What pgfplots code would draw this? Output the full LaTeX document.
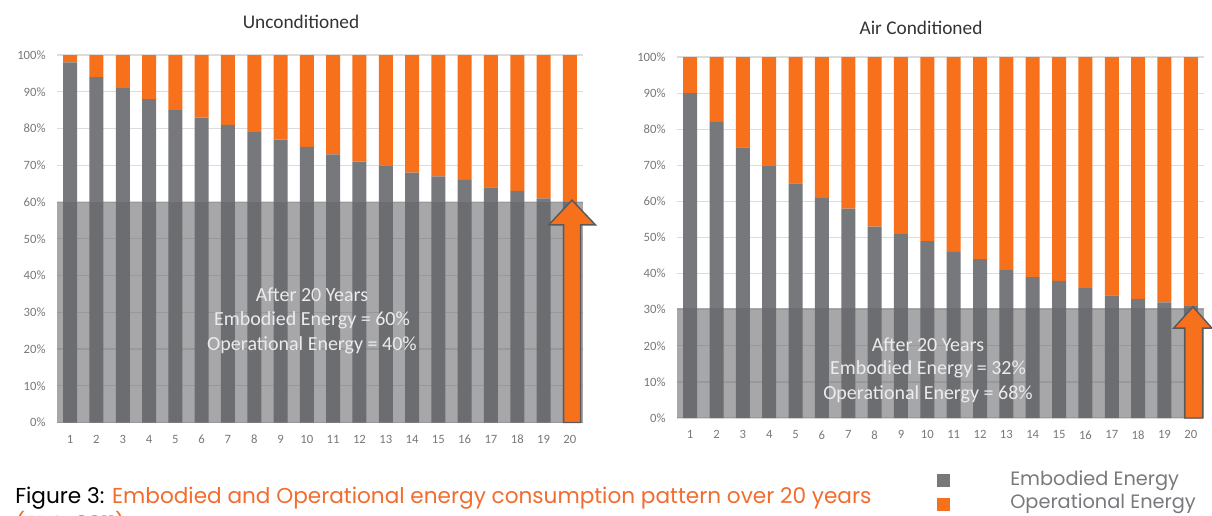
\documentclass[border=0pt]{standalone}
\usepackage{pgfplots}
\pgfplotsset{compat=1.18}
\usepackage{fontspec}
\setmainfont{Carlito}
\newfontfamily\capfont{Poppins}
\definecolor{barorange}{RGB}{247,113,29}
\definecolor{capor}{RGB}{242,108,45}
\definecolor{bargrey}{RGB}{119,120,124}
\definecolor{bandgrey}{RGB}{100,101,105}
\definecolor{gridgrey}{RGB}{220,220,220}
\definecolor{ticktext}{RGB}{120,120,120}
\definecolor{legtext}{RGB}{120,121,125}
\definecolor{arrowline}{RGB}{90,90,92}
\pgfplotsset{
  mystyle/.style={
    scale only axis,
    ybar stacked,
    bar width=10.5pt,
    ymin=0, ymax=100,
    xmin=0.5, xmax=20.5,
    ytick={0,10,...,100},
    xtick={1,...,20},
    /pgf/number format/assume math mode=true,
    yticklabel={\pgfmathprintnumber{\tick}\%},
    ymajorgrids,
    grid style={gridgrey, line width=0.9pt},
    axis line style={draw=none},
    tick style={draw=none},
    tick label style={font=\fontsize{9.5}{11}\selectfont, text=ticktext},
    yticklabel style={xshift=-5pt},
    xticklabel style={yshift=-6pt},
    clip=false,
  }
}
\newcommand{\PX}[2]{({#1*0.75pt},{#2*0.75pt})}
\begin{document}
\begin{tikzpicture}
\path[use as bounding box] \PX{0}{0} rectangle \PX{1212}{515};
\clip \PX{0}{0} rectangle \PX{1212}{515};
% Left chart
\begin{axis}[mystyle, at={(42.75pt,69.375pt)}, anchor=south west, width=394.5pt, height=275.6pt]
\addplot[fill=bargrey, draw=none] coordinates {
(1,98) (2,94) (3,91) (4,88) (5,85) (6,83) (7,81) (8,79) (9,77) (10,75)
(11,73) (12,71) (13,70) (14,68) (15,67) (16,66) (17,64) (18,63) (19,61) (20,60)};
\addplot[fill=barorange, draw=none] coordinates {
(1,2) (2,6) (3,9) (4,12) (5,15) (6,17) (7,19) (8,21) (9,23) (10,25)
(11,27) (12,29) (13,30) (14,32) (15,33) (16,34) (17,36) (18,37) (19,39) (20,40)};
\coordinate (LB1) at (axis cs:0.5,0);
\coordinate (LB2) at (axis cs:20.5,60);
\coordinate (La1) at (axis cs:19.76,0);
\coordinate (La2) at (axis cs:19.76,53.8);
\coordinate (La3) at (axis cs:19.2,53.8);
\coordinate (La4) at (axis cs:20.08,60.5);
\coordinate (La5) at (axis cs:20.97,53.8);
\coordinate (La6) at (axis cs:20.41,53.8);
\coordinate (La7) at (axis cs:20.41,0);
\end{axis}
\fill[bandgrey, fill opacity=0.57] (LB1) rectangle (LB2);
\filldraw[fill=barorange, draw=arrowline, line width=1.1pt]
  (La1) -- (La2) -- (La3) -- (La4) -- (La5) -- (La6) -- (La7) -- cycle;
% Right chart
\begin{axis}[mystyle, at={(507.75pt,72.75pt)}, anchor=south west, width=395.25pt, height=270.75pt]
\addplot[fill=bargrey, draw=none] coordinates {
(1,90) (2,82) (3,75) (4,70) (5,65) (6,61) (7,58) (8,53) (9,51) (10,49)
(11,46) (12,44) (13,41) (14,39) (15,38) (16,36) (17,34) (18,33) (19,32) (20,31)};
\addplot[fill=barorange, draw=none] coordinates {
(1,10) (2,18) (3,25) (4,30) (5,35) (6,39) (7,42) (8,47) (9,49) (10,51)
(11,54) (12,56) (13,59) (14,61) (15,62) (16,64) (17,66) (18,67) (19,68) (20,69)};
\coordinate (RB1) at (axis cs:0.5,0);
\coordinate (RB2) at (axis cs:20.5,30.5);
\coordinate (Ra1) at (axis cs:19.77,0);
\coordinate (Ra2) at (axis cs:19.77,24.9);
\coordinate (Ra3) at (axis cs:19.35,24.9);
\coordinate (Ra4) at (axis cs:20.08,30.8);
\coordinate (Ra5) at (axis cs:20.8,24.9);
\coordinate (Ra6) at (axis cs:20.45,24.9);
\coordinate (Ra7) at (axis cs:20.45,0);
\end{axis}
\fill[bandgrey, fill opacity=0.57] (RB1) rectangle (RB2);
\filldraw[fill=barorange, draw=arrowline, line width=1.1pt]
  (Ra1) -- (Ra2) -- (Ra3) -- (Ra4) -- (Ra5) -- (Ra6) -- (Ra7) -- cycle;
% Titles
\node[font=\fontsize{14.5}{16}\selectfont, text=black!80] at \PX{301}{493} {Unconditioned};
\node[font=\fontsize{14.5}{16}\selectfont, text=black!80] at \PX{921}{487} {Air Conditioned};
% Overlay text
\begin{scope}[every node/.style={font=\fontsize{15}{17}\selectfont, text=white!92!black}]
\node at \PX{312}{220} {After 20 Years};
\node at \PX{312}{195} {Embodied Energy = 60\%};
\node at \PX{312}{170} {Operational Energy = 40\%};
\node at \PX{928}{170} {After 20 Years};
\node at \PX{928}{146} {Embodied Energy = 32\%};
\node at \PX{928}{121} {Operational Energy = 68\%};
\end{scope}
% Caption
\node[anchor=base west, inner sep=0pt, font=\capfont\fontsize{16.2}{18}\selectfont] at \PX{15}{12}
  {Figure 3: \textcolor{capor}{Embodied and Operational energy consumption pattern over 20 years}};
\node[anchor=base west, inner sep=0pt, font=\capfont\fontsize{16.2}{18}\selectfont, text=capor] at \PX{15}{-16}
  {(EPC, 2011)};
% Legend
\fill[bargrey] \PX{937}{28} rectangle \PX{950}{41};
\fill[barorange] \PX{937}{4} rectangle \PX{950}{17};
\node[anchor=base west, inner sep=0pt, font=\capfont\fontsize{14.5}{16}\selectfont, text=legtext] at \PX{1010}{30} {Embodied Energy};
\node[anchor=base west, inner sep=0pt, font=\capfont\fontsize{14.5}{16}\selectfont, text=legtext] at \PX{1010}{7} {Operational Energy};
\end{tikzpicture}
\end{document}
